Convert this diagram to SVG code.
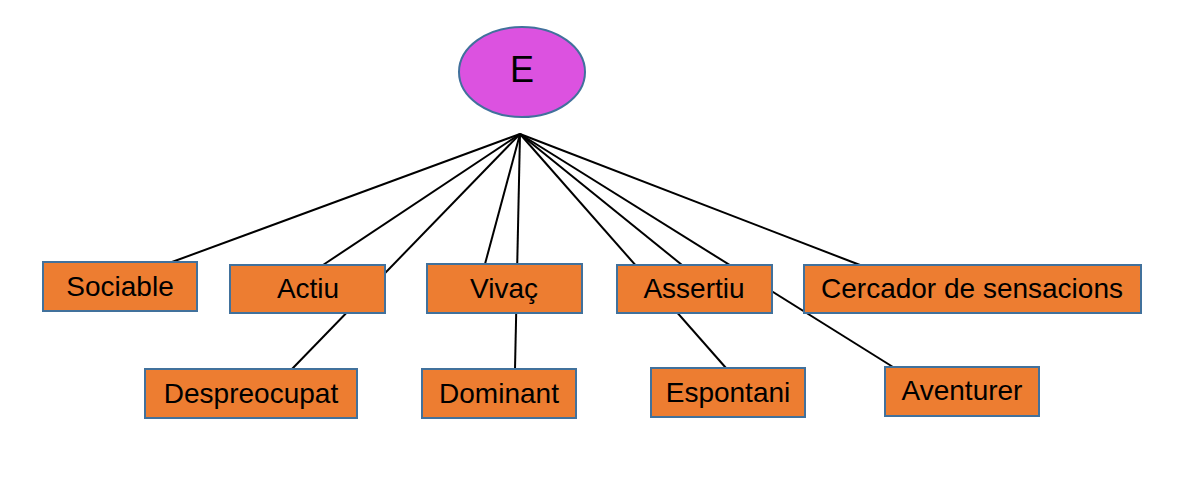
<svg xmlns="http://www.w3.org/2000/svg" width="1180" height="487" viewBox="0 0 1180 487">
<style>
.bg{fill:#ffffff}
.ln{stroke:#000000;stroke-width:2;fill:none}
.box{fill:#ED7D31;stroke:#41719C;stroke-width:2}
.ell{fill:#DC52E0;stroke:#41719C;stroke-width:2}
.t{font-family:"Liberation Sans",Arial,sans-serif;font-size:28px;fill:#000000;text-anchor:middle}
.te{font-family:"Liberation Sans",Arial,sans-serif;font-size:36px;fill:#000000;text-anchor:middle}
</style>
<rect class="bg" x="0" y="0" width="1180" height="487"/>
<g id="connectors">
<line class="ln" x1="520" y1="134" x2="172" y2="262"/>
<line class="ln" x1="520" y1="134" x2="323" y2="265"/>
<line class="ln" x1="520" y1="134" x2="292" y2="369"/>
<line class="ln" x1="520" y1="134" x2="485" y2="264"/>
<line class="ln" x1="520" y1="134" x2="515" y2="369"/>
<line class="ln" x1="520" y1="134" x2="726" y2="368"/>
<line class="ln" x1="520" y1="134" x2="682" y2="265"/>
<line class="ln" x1="520" y1="134" x2="893" y2="367"/>
<line class="ln" x1="520" y1="134" x2="860" y2="265"/>
</g>
<g id="node-E">
<ellipse class="ell" cx="522" cy="72" rx="63" ry="45"/>
<text class="te" x="522" y="82">E</text>
</g>
<g id="node-sociable">
<rect class="box" x="43" y="262" width="154" height="49"/>
<text class="t" x="120" y="296">Sociable</text>
</g>
<g id="node-actiu">
<rect class="box" x="230" y="265" width="155" height="48"/>
<text class="t" x="308" y="298">Actiu</text>
</g>
<g id="node-vivac">
<rect class="box" x="427" y="264" width="155" height="49"/>
<text class="t" x="504" y="298">Vivaç</text>
</g>
<g id="node-assertiu">
<rect class="box" x="617" y="265" width="155" height="48"/>
<text class="t" x="694" y="298">Assertiu</text>
</g>
<g id="node-cercador">
<rect class="box" x="804" y="265" width="337" height="48"/>
<text class="t" x="972" y="298">Cercador de sensacions</text>
</g>
<g id="node-despreocupat">
<rect class="box" x="145" y="369" width="212" height="49"/>
<text class="t" x="251" y="403">Despreocupat</text>
</g>
<g id="node-dominant">
<rect class="box" x="422" y="369" width="154" height="49"/>
<text class="t" x="499" y="403">Dominant</text>
</g>
<g id="node-espontani">
<rect class="box" x="651" y="368" width="154" height="49"/>
<text class="t" x="728" y="402">Espontani</text>
</g>
<g id="node-aventurer">
<rect class="box" x="885" y="367" width="154" height="49"/>
<text class="t" x="962" y="400">Aventurer</text>
</g>
</svg>
